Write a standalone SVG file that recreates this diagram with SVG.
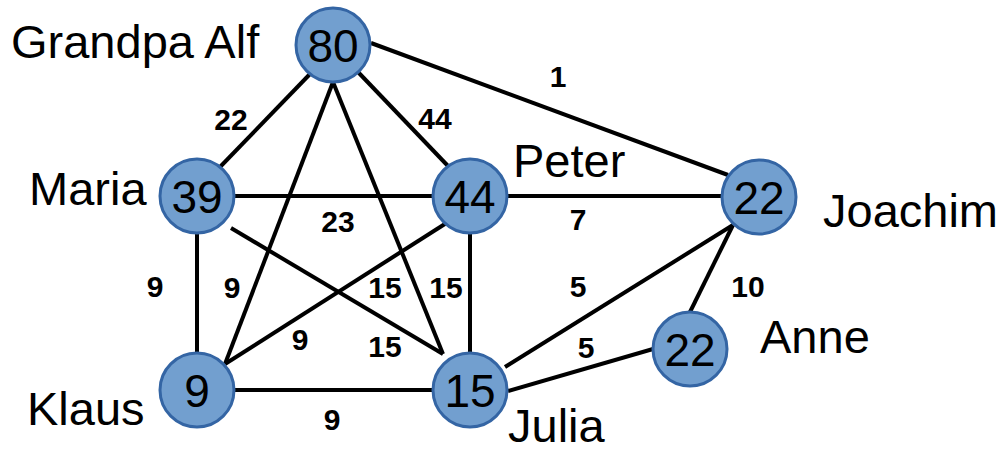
<svg xmlns="http://www.w3.org/2000/svg" width="1000" height="450" viewBox="0 0 1000 450">
  <style>
    .edge { stroke: #000; stroke-width: 4; fill: none; }
    .node circle { fill: #729fcf; stroke: #3465a4; stroke-width: 3; }
    .node text.val { font-family: "Liberation Sans", Arial, sans-serif; font-size: 46px; fill: #000; text-anchor: middle; }
    .name { font-family: "Liberation Sans", Arial, sans-serif; font-size: 47px; fill: #000; }
    .w { font-family: "Liberation Sans", Arial, sans-serif; font-size: 30px; font-weight: bold; fill: #000; text-anchor: middle; }
  </style>
  <rect width="1000" height="450" fill="#fff"/>

  <!-- connectors -->
  <g id="connectors">
    <line class="edge" x1="371" y1="43" x2="728" y2="175"/>
    <line class="edge" x1="310" y1="74" x2="220" y2="167"/>
    <line class="edge" x1="358" y1="72" x2="448" y2="166"/>
    <line class="edge" x1="333" y1="82" x2="225" y2="364"/>
    <line class="edge" x1="333" y1="82" x2="443" y2="354"/>
    <line class="edge" x1="235" y1="196" x2="432" y2="196"/>
    <line class="edge" x1="197" y1="233" x2="197" y2="353"/>
    <line class="edge" x1="231" y1="228" x2="443" y2="354"/>
    <line class="edge" x1="448" y1="222" x2="225" y2="364"/>
    <line class="edge" x1="470" y1="233" x2="470" y2="353"/>
    <line class="edge" x1="508" y1="196" x2="721" y2="196"/>
    <line class="edge" x1="235" y1="390" x2="433" y2="390"/>
    <line class="edge" x1="505" y1="367" x2="733" y2="225"/>
    <line class="edge" x1="508" y1="391" x2="653" y2="349"/>
    <line class="edge" x1="733" y1="225" x2="690" y2="312"/>

    <text class="w" x="558" y="87">1</text>
    <text class="w" x="231" y="130">22</text>
    <text class="w" x="435" y="129">44</text>
    <text class="w" x="338" y="232">23</text>
    <text class="w" x="578" y="230">7</text>
    <text class="w" x="155" y="297">9</text>
    <text class="w" x="232" y="298">9</text>
    <text class="w" x="385" y="298">15</text>
    <text class="w" x="446" y="298">15</text>
    <text class="w" x="578" y="297">5</text>
    <text class="w" x="748" y="297">10</text>
    <text class="w" x="300" y="350">9</text>
    <text class="w" x="385" y="357">15</text>
    <text class="w" x="586" y="358">5</text>
    <text class="w" x="332" y="430">9</text>
  </g>

  <!-- nodes -->
  <g id="alf" class="node">
    <circle cx="333" cy="45" r="37"/>
    <text class="val" x="333" y="62">80</text>
  </g>
  <g id="maria" class="node">
    <circle cx="197" cy="196" r="37"/>
    <text class="val" x="197" y="213">39</text>
  </g>
  <g id="klaus" class="node">
    <circle cx="197" cy="390" r="37"/>
    <text class="val" x="197" y="407">9</text>
  </g>
  <g id="peter" class="node">
    <circle cx="470" cy="196" r="37"/>
    <text class="val" x="470" y="213">44</text>
  </g>
  <g id="julia" class="node">
    <circle cx="470" cy="390" r="37"/>
    <text class="val" x="470" y="407">15</text>
  </g>
  <g id="joachim" class="node">
    <circle cx="759" cy="197" r="37"/>
    <text class="val" x="759" y="214">22</text>
  </g>
  <g id="anne" class="node">
    <circle cx="690" cy="349" r="37"/>
    <text class="val" x="690" y="366">22</text>
  </g>

  <!-- names -->
  <g id="names">
    <text class="name" x="11" y="58">Grandpa Alf</text>
    <text class="name" x="29" y="205">Maria</text>
    <text class="name" x="27" y="425">Klaus</text>
    <text class="name" x="513" y="177">Peter</text>
    <text class="name" x="823" y="227">Joachim</text>
    <text class="name" x="508" y="442">Julia</text>
    <text class="name" x="760" y="353">Anne</text>
  </g>
</svg>
